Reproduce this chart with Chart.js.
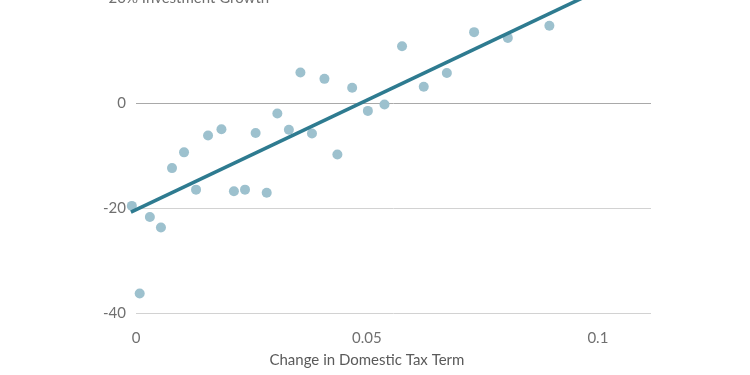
<!DOCTYPE html>
<html>
<head>
<meta charset="utf-8">
<script src="https://cdn.jsdelivr.net/npm/chart.js@4/dist/chart.umd.min.js"></script>
<style>
html,body{margin:0;padding:0;background:#fff;overflow:hidden;width:750px;height:375px;}
#wrap{position:absolute;left:0;top:-40px;width:750px;height:415px;}
</style>
</head>
<body>
<div id="wrap"><canvas id="c"></canvas></div>
<script>
// Data
const taxChange = [-0.0009,0.0008,0.0030,0.0054,0.0078,0.0104,0.0130,0.0156,0.0185,0.0212,0.0236,0.0259,0.0283,0.0306,0.0331,0.0356,0.0381,0.0408,0.0436,0.0468,0.0502,0.0538,0.0576,0.0623,0.0673,0.0732,0.0805,0.0895];
const investGrowth = [-19.6,-36.3,-21.7,-23.7,-12.4,-9.4,-16.5,-6.2,-5.0,-16.8,-16.5,-5.7,-17.1,-2.0,-5.1,5.8,-5.8,4.6,-9.8,2.9,-1.5,-0.3,10.8,3.1,5.7,13.5,12.4,14.7];
const trendX = [-0.0011, 0.1];
const trendY = [-20.8, 21.4];
const xTicks = [0, 0.05, 0.1];
const yTicks = [-40, -20, 0, 20];
const xTitle = 'Change in Domestic Tax Term';
const yUnit = '% Investment Growth';

const FONT = 'Lato, "Open Sans", sans-serif';
const tickColor = '#707070';

const extras = {
  id: 'extras',
  afterDraw(chart) {
    const ctx = chart.ctx;
    const xs = chart.scales.x, ys = chart.scales.y;
    ctx.save();
    ctx.font = '15px ' + FONT;
    ctx.fillStyle = tickColor;
    ctx.textBaseline = 'middle';
    ctx.textAlign = 'left';
    ctx.fillText(yUnit, chart.chartArea.left - 10, ys.getPixelForValue(20));
    ctx.textAlign = 'center';
    ctx.fillStyle = '#5a5a5a';
    ctx.fillText(xTitle, xs.getPixelForValue(0.05), chart.chartArea.bottom + 47);
    ctx.restore();
  }
};

new Chart(document.getElementById('c'), {
  type: 'scatter',
  data: {
    datasets: [
      {
        type: 'line',
        data: trendX.map((x, i) => ({x, y: trendY[i]})),
        borderColor: '#2e7b90',
        borderWidth: 3.5,
        pointRadius: 0,
        fill: false,
        order: 0,
        clip: false
      },
      {
        data: taxChange.map((x, i) => ({x, y: investGrowth[i]})),
        backgroundColor: '#9dc1ce',
        borderWidth: 0,
        pointRadius: 5,
        pointHoverRadius: 5,
        order: 1,
        clip: false
      }
    ]
  },
  options: {
    responsive: true,
    maintainAspectRatio: false,
    animation: false,
    layout: { padding: { left: 0, right: 99, top: 38, bottom: 0 } },
    plugins: { legend: { display: false }, tooltip: { enabled: false } },
    scales: {
      x: {
        type: 'linear',
        min: 0,
        max: 0.1115,
        afterBuildTicks(s) { s.ticks = xTicks.map(v => ({value: v})); },
        afterFit(s) { s.height = 62; },
        grid: { display: false, drawTicks: false },
        border: { display: false },
        ticks: {
          padding: 16,
          color: tickColor,
          font: { family: FONT, size: 15 },
          callback: v => String(v)
        }
      },
      y: {
        min: -40,
        max: 20,
        afterBuildTicks(s) { s.ticks = yTicks.map(v => ({value: v})); },
        afterFit(s) { s.width = 136; },
        grid: {
          drawTicks: false,
          color: c => c.tick && c.tick.value === 0 ? '#a9a9a9' : '#d2d2d2',
          lineWidth: 1
        },
        border: { display: false },
        ticks: {
          padding: 10,
          color: tickColor,
          font: { family: FONT, size: 15 },
          callback: v => String(v)
        }
      }
    }
  },
  plugins: [extras]
});
</script>
</body>
</html>
